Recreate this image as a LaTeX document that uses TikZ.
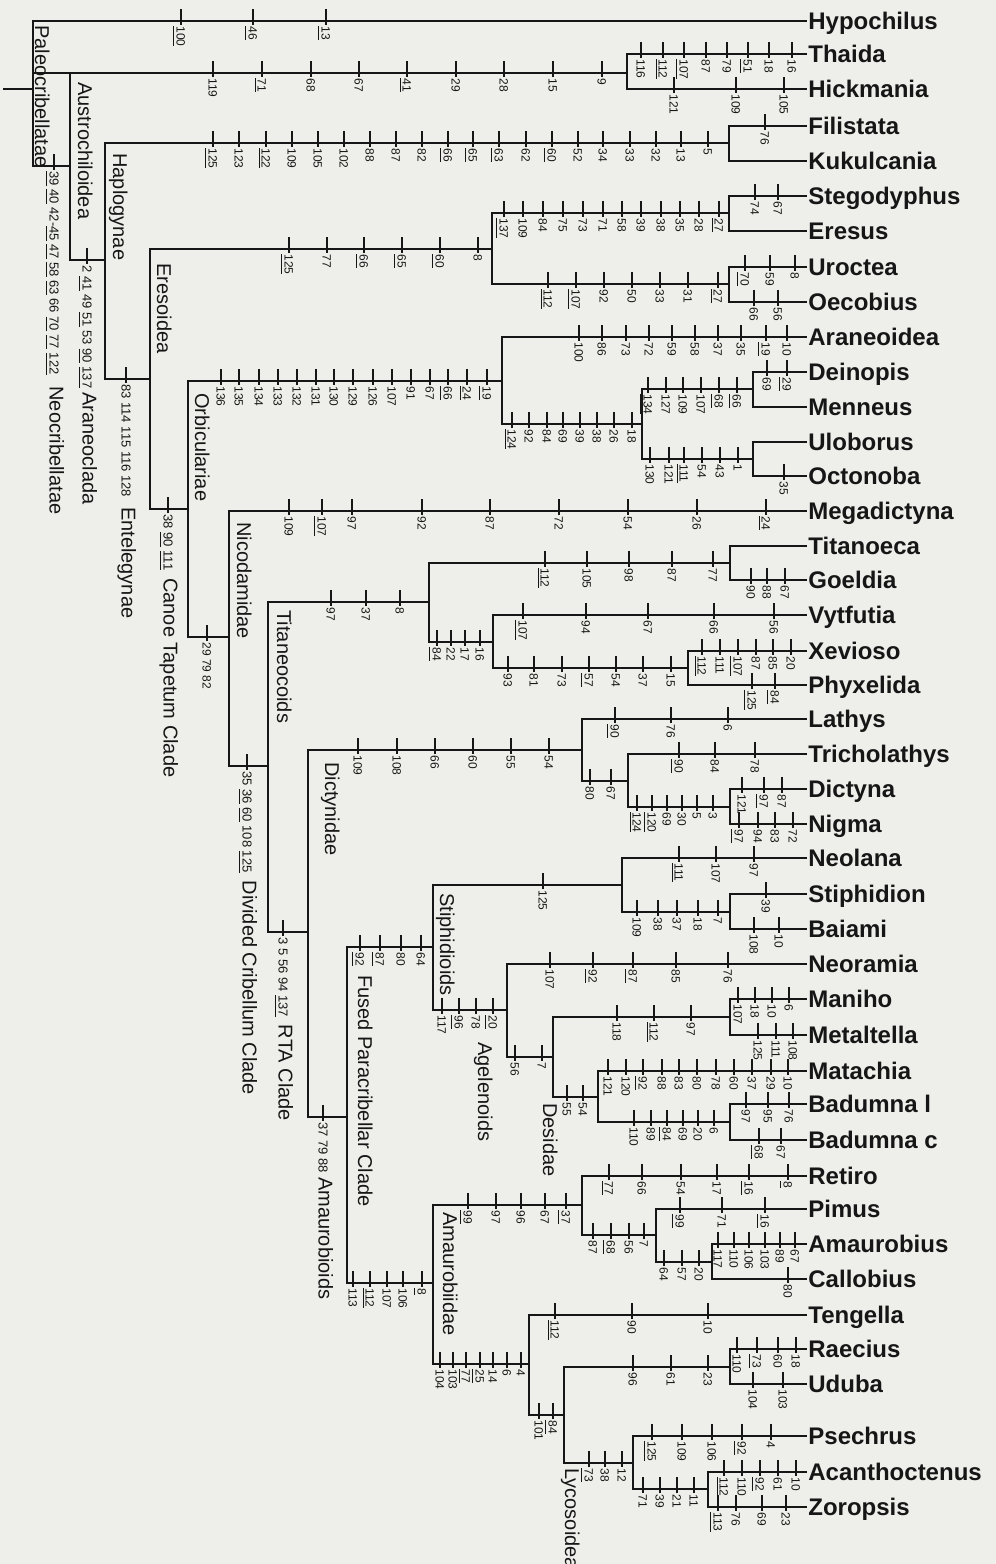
\documentclass[tikz,border=0pt]{standalone}
\usepackage{fontspec}
\setmainfont{Liberation Sans}
\usepackage{tikz}

\definecolor{paper}{RGB}{238,238,234}
\definecolor{ink}{RGB}{22,22,22}

\newcommand{\uln}[1]{\underline{#1}}
\newcommand{\nums}{\fontsize{6.5}{7}\selectfont}
\newcommand{\ticks}[2]{%
  \if\relax\detokenize{#2}\relax\else
  \foreach \tx/\tl in {#2} {
    \draw[tick] (\tx,#1-12) -- (\tx,#1+4);
    \node[charlab] at (\tx-4.3,#1+4) {\tl};
  }\fi}
\newcommand{\twig}[4]{\draw[branch] (#1,#3) -- (#2,#3); \ticks{#3}{#4}}
\newcommand{\tip}[4]{\draw[branch] (#1,#2) -- (#3.west); \ticks{#2}{#4}}

\begin{document}
\begin{tikzpicture}[
        x=0.5pt, y=-0.5pt,
        branch/.style={draw=ink, line width=1pt, line cap=rect},
        tick/.style={draw=ink, line width=0.7pt},
        taxon/.style={anchor=west, inner sep=1pt, text=ink, text height=8.6pt, text depth=0pt,
                      font=\fontsize{12}{14}\selectfont\bfseries},
        charlab/.style={rotate=-90, anchor=base west, inner sep=0.5pt, text=ink,
                        font=\fontsize{6}{7}\selectfont},
        cladelab/.style={rotate=-90, anchor=base west, inner sep=0.5pt, text=ink,
                         font=\fontsize{10}{12}\selectfont}
                                ]
  \useasboundingbox (0,0) rectangle (996,1564);
  \fill[paper] (0,0) rectangle (996,1564);

  \foreach \n/\y/\t in {hypo/21/Hypochilus, thaida/54/Thaida, hickm/89/Hickmania,
      filis/126/Filistata, kukul/161/Kukulcania, stego/196/Stegodyphus, eresus/231/Eresus,
      uroc/267/Uroctea, oecob/302/Oecobius, aranei/337/Araneoidea, deino/372/Deinopis,
      menne/407/Menneus, ulobo/442/Uloborus, octon/476/Octonoba, megad/511/Megadictyna,
      titan/546/Titanoeca, goeld/580/Goeldia, vytfu/615/Vytfutia, xevio/651/Xevioso,
      phyxe/685/Phyxelida, lathy/719/Lathys, trich/754/Tricholathys, dicty/789/Dictyna,
      nigma/824/Nigma, neola/858/Neolana, stiph/894/Stiphidion, baiam/929/Baiami,
      neora/964/Neoramia, manih/999/Maniho, metal/1035/Metaltella, matac/1071/Matachia,
      badul/1104/Badumna l, baduc/1140/Badumna c, retir/1176/Retiro, pimus/1209/Pimus,
      amaur/1244/Amaurobius, callo/1279/Callobius, tenge/1315/Tengella, raeci/1349/Raecius,
      uduba/1384/Uduba, psech/1436/Psechrus, acant/1472/Acanthoctenus, zorop/1507/Zoropsis}
    \node[taxon] (\n) at (806,\y) {\t};

  \foreach \x/\a/\b in {33/21/166, 627/54/89, 70/73/260, 105/143/379, 729/126/161,
      150/249/509, 492/213/284, 729/196/231, 729/267/302, 188/381/637, 502/337/424,
      642/389/459, 753/372/407, 753/442/476, 229/511/766, 268/602/932, 429/563/642,
      730/546/580, 493/615/668, 688/651/685, 308/750/1117, 582/719/781, 628/754/807,
      730/789/824, 347/947/1283, 433/885/1010, 622/858/912, 730/894/929, 507/964/1057,
      553/1017/1097, 730/999/1035, 598/1071/1122, 730/1104/1140, 433/1205/1364,
      582/1176/1235, 656/1209/1262, 712/1244/1279, 529/1315/1415, 564/1367/1463,
      730/1349/1384, 633/1436/1489, 708/1472/1507}
    \draw[branch] (\x,\a) -- (\x,\b);

  \draw[branch] (4,89) -- (33,89);
  \tip{33}{21}{hypo}{181/\uln{100},253/\uln{46},326/\uln{13}}
  \twig{33}{627}{73}{213/119,262/\uln{71},311/68,359/67,407/\uln{41},456/29,504/28,553/15,602/9}
  \tip{627}{54}{thaida}{641/116,663/\uln{112},684/\uln{107},706/87,727/79,748/\uln{51},769/18,792/16}
  \tip{627}{89}{hickm}{674/121,736/109,784/105}
  \twig{33}{70}{166}{}
  \twig{70}{105}{260}{}
  \twig{105}{729}{143}{213/\uln{125},239/123,266/\uln{122},292/109,318/105,344/102,370/88,396/87,422/82,448/\uln{66},473/\uln{65},499/\uln{63},526/62,552/\uln{60},578/52,603/34,630/33,656/32,681/13,708/5}
  \tip{729}{126}{filis}{765/76}
  \tip{729}{161}{kukul}{}
  \twig{105}{150}{379}{}
  \twig{150}{492}{249}{289/\uln{125},327/77,364/\uln{66},402/\uln{65},440/\uln{60},478/8}
  \twig{492}{729}{213}{504/\uln{137},523/109,543/84,563/75,583/73,603/71,622/58,641/39,661/38,680/35,699/28,719/\uln{27}}
  \tip{729}{196}{stego}{755/74,778/67}
  \tip{729}{231}{eresus}{}
  \twig{492}{729}{284}{548/\uln{112},576/\uln{107},604/92,632/50,660/33,688/31,718/\uln{27}}
  \tip{729}{267}{uroc}{745/\uln{70},770/59,795/8}
  \tip{729}{302}{oecob}{754/66,778/56}

  \twig{150}{188}{509}{}
  \twig{188}{502}{381}{221/136,239/135,259/134,278/133,297/132,316/131,334/130,353/129,373/126,392/107,411/91,430/67,448/\uln{66},467/\uln{24},487/\uln{19}}
  \tip{502}{337}{aranei}{579/100,602/86,626/73,649/72,672/59,695/58,718/37,741/35,766/\uln{19},787/10}
  \twig{502}{642}{424}{512/\uln{124},529/92,547/84,563/69,580/39,597/38,614/26,632/18}
  \twig{642}{753}{389}{648/\uln{134},666/127,683/109,701/107,719/\uln{68},737/\uln{66}}
  \tip{753}{372}{deino}{767/69,787/\uln{29}}
  \tip{753}{407}{menne}{}
  \twig{642}{753}{459}{650/130,669/121,684/\uln{111},702/54,720/43,738/1}
  \tip{753}{442}{ulobo}{}
  \tip{753}{476}{octon}{784/35}

  \twig{188}{229}{637}{207/29 79 82}
  \tip{229}{511}{megad}{289/109,322/\uln{107},352/97,422/92,490/87,559/72,628/54,697/26,766/\uln{24}}
  \twig{229}{268}{766}{}
  \twig{268}{429}{602}{331/97,366/37,400/8}
  \twig{429}{730}{563}{545/\uln{112},587/105,629/98,672/87,713/77}
  \tip{730}{546}{titan}{}
  \tip{730}{580}{goeld}{751/90,767/88,785/67}
  \twig{429}{493}{642}{437/\uln{84},451/22,465/17,480/16}
  \tip{493}{615}{vytfu}{523/\uln{107},586/94,648/67,714/66,774/56}
  \twig{493}{688}{668}{508/93,534/81,562/73,589/\uln{57},616/54,643/37,671/15}
  \tip{688}{651}{xevio}{702/\uln{112},720/111,738/\uln{107},756/87,773/85,791/20}
  \tip{688}{685}{phyxe}{752/\uln{125},775/\uln{84}}

  \twig{268}{308}{932}{}
  \twig{308}{582}{750}{358/109,397/108,435/66,473/60,511/55,549/54}
  \tip{582}{719}{lathy}{615/\uln{90},671/76,728/6}
  \twig{582}{628}{781}{590/80,611/67}
  \tip{628}{754}{trich}{679/\uln{90},715/84,755/78}
  \twig{628}{730}{807}{637/\uln{124},652/\uln{120},667/69,682/30,697/5,713/3}
  \tip{730}{789}{dicty}{742/121,764/\uln{97},782/87}
  \tip{730}{824}{nigma}{739/\uln{97},758/94,775/83,793/72}

  \twig{308}{347}{1117}{}
  \twig{347}{433}{947}{360/\uln{92},380/\uln{87},401/80,421/64}
  \twig{433}{622}{885}{543/125}
  \tip{622}{858}{neola}{679/\uln{111},716/107,754/97}
  \twig{622}{730}{912}{637/109,658/38,677/37,698/18,718/7}
  \tip{730}{894}{stiph}{766/39}
  \tip{730}{929}{baiam}{754/108,779/10}
  \twig{433}{507}{1010}{442/117,459/\uln{96},476/78,493/\uln{20}}
  \tip{507}{964}{neora}{550/107,593/\uln{92},633/\uln{87},676/85,728/76}
  \twig{507}{553}{1057}{515/56,542/7}
  \twig{553}{730}{1017}{617/118,654/\uln{112},691/97}
  \tip{730}{999}{manih}{738/\uln{107},755/18,772/10,789/6}
  \tip{730}{1035}{metal}{758/125,776/111,793/108}
  \twig{553}{598}{1097}{567/55,583/54}
  \tip{598}{1071}{matac}{608/121,626/120,643/\uln{92},662/88,679/83,697/80,716/78,734/60,752/37,771/29,788/10}
  \twig{598}{730}{1122}{634/110,651/89,667/\uln{84},683/69,698/20,714/6}
  \tip{730}{1104}{badul}{746/97,768/95,789/76}
  \tip{730}{1140}{baduc}{759/\uln{68},781/67}

  \twig{347}{433}{1283}{353/113,370/\uln{112},387/107,403/106,422/\uln{8}}
  \twig{433}{582}{1205}{468/\uln{99},496/97,521/96,545/67,566/\uln{37}}
  \tip{582}{1176}{retir}{609/\uln{77},642/66,681/54,717/17,749/\uln{16},788/\uln{8}}
  \twig{582}{656}{1235}{593/87,611/\uln{68},629/56,644/7}
  \tip{656}{1209}{pimus}{680/\uln{99},722/71,765/\uln{16}}
  \twig{656}{712}{1262}{664/64,682/57,699/20}
  \tip{712}{1244}{amaur}{718/117,734/110,749/106,765/103,780/89,795/67}
  \tip{712}{1279}{callo}{788/80}
  \twig{433}{529}{1364}{440/104,453/103,466/\uln{77},480/\uln{25},493/14,507/6,521/4}
  \tip{529}{1315}{tenge}{555/\uln{112},632/90,708/10}
  \twig{529}{564}{1415}{539/101,553/\uln{84}}
  \twig{564}{730}{1367}{633/96,671/61,708/23}
  \tip{730}{1349}{raeci}{737/110,757/\uln{73},778/60,796/18}
  \tip{730}{1384}{uduba}{753/104,783/103}
  \twig{564}{633}{1463}{589/\uln{73},605/38,622/12}
  \tip{633}{1436}{psech}{652/\uln{125},682/109,712/106,742/\uln{92},771/4}
  \twig{633}{708}{1489}{643/71,660/39,677/21,694/11}
  \tip{708}{1472}{acant}{724/\uln{112},742/110,760/\uln{92},778/61,796/10}
  \tip{708}{1507}{zorop}{718/\uln{113},736/76,762/69,786/23}

  % clade names
  \draw[tick] (54,154) -- (54,170);
  \draw[tick] (87,248) -- (87,264);
  \draw[tick] (126,367) -- (126,383);
  \draw[tick] (168,497) -- (168,513);
  \draw[tick] (247,754) -- (247,770);
  \draw[tick] (283,920) -- (283,936);
  \draw[tick] (323,1105) -- (323,1121);
  \node[cladelab] at (49.5,170) {{\nums \uln{39} \uln{40} 42-\uln{45} \uln{47} \uln{58} \uln{63} 66 \uln{70} \uln{77} \uln{122}}\hspace{6pt}Neocribellatae};
  \node[cladelab] at (82.5,264) {{\nums 2 \uln{41} 49 \uln{51} 53 \uln{90} \uln{137}}\hspace{2pt}Araneoclada};
  \node[cladelab] at (121.5,383) {{\nums 83 114 115 116 128}\hspace{5pt}Entelegynae};
  \node[cladelab] at (163.5,513) {{\nums 38 \uln{90} \uln{111}}\hspace{4pt}Canoe Tapetum Clade};
  \node[cladelab] at (242.5,770) {{\nums 35 \uln{36} \uln{60} 108 \uln{125}}\hspace{4pt}Divided Cribellum Clade};
  \node[cladelab] at (278.5,936) {{\nums 3 5 56 94 \uln{137}}\hspace{4pt}RTA Clade};
  \node[cladelab] at (318.5,1121) {{\nums 37 79 88}\hspace{2pt}Amaurobioids};

  \node[cladelab] at (35,24) {Paleocribellatae};
  \node[cladelab] at (78,81) {Austrochiloidea};
  \node[cladelab] at (113,152) {Haplogynae};
  \node[cladelab] at (157,262) {Eresoidea};
  \node[cladelab] at (195,392) {Orbiculariae};
  \node[cladelab] at (237,521) {Nicodamidae};
  \node[cladelab] at (277,609) {Titaneocoids};
  \node[cladelab] at (325,761) {Dictynidae};
  \node[cladelab] at (440,892) {Stiphidioids};
  \node[cladelab] at (358,974) {Fused Paracribellar Clade};
  \node[cladelab] at (478,1041) {Agelenoids};
  \node[cladelab] at (543,1102) {Desidae};
  \node[cladelab] at (443,1211) {Amaurobiidae};
  \node[cladelab] at (565,1467) {Lycosoidea};
\end{tikzpicture}
\end{document}
